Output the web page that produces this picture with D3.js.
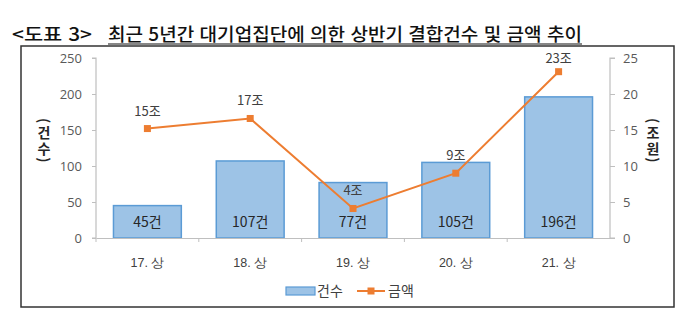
<!DOCTYPE html>
<html lang="ko">
<head>
<meta charset="utf-8">
<script src="https://cdn.jsdelivr.net/npm/d3@7"></script>
<style>
  html, body { margin: 0; padding: 0; background: #fff; }
  svg { display: block; font-family: "Noto Sans CJK KR", "Noto Sans", sans-serif; }
</style>
</head>
<body>
<svg id="chart" width="697" height="327"></svg>
<script>
// Half-year M&A counts and amounts of large business groups
const categories = ["17. 상", "18. 상", "19. 상", "20. 상", "21. 상"];
const counts = [45, 107, 77, 105, 196];          // 건수
const amounts = [15.2, 16.6, 4.1, 9.0, 23.1];     // 금액 (조원)
const countTicks = [0, 50, 100, 150, 200, 250];
const amountTicks = [0, 5, 10, 15, 20, 25];
const seriesNames = ["건수", "금액"];
const axisTitles = ["(건수)", "(조원)"];

const svg = d3.select("#chart");

const BAR_FILL = "#9dc3e6", BAR_STROKE = "#5b9bd5", LINE = "#ed7d31";
const AXIS = "#bfbfbf", TXT = "#404040";

// title
svg.append("text").attr("x", 12).attr("y", 41).attr("font-size", 18).attr("fill", "#111")
  .attr("font-weight", 500)
  .attr("textLength", 80).attr("lengthAdjust", "spacingAndGlyphs").text("<도표 3>");
svg.append("text").attr("x", 108).attr("y", 41).attr("font-size", 18).attr("fill", "#111")
  .attr("font-weight", 500)
  .attr("textLength", 474).attr("lengthAdjust", "spacingAndGlyphs")
  .text("최근 5년간 대기업집단에 의한 상반기 결합건수 및 금액 추이");
svg.append("line").attr("x1", 108).attr("x2", 582).attr("y1", 44).attr("y2", 44)
  .attr("stroke", "#111").attr("stroke-width", 1.2);

// outer frame
svg.append("rect").attr("x", 21).attr("y", 46).attr("width", 653).attr("height", 261)
  .attr("fill", "none").attr("stroke", "#333").attr("stroke-width", 1.5);

const plot = { left: 96, right: 610, top: 58, bottom: 238 };

const x = d3.scaleBand().domain(categories).range([plot.left, plot.right]).paddingInner(0.34).paddingOuter(0.17);
const xBand = d3.scaleBand().domain(categories).range([plot.left, plot.right]);
const yL = d3.scaleLinear().domain([0, 250]).range([plot.bottom, plot.top]);
const yR = d3.scaleLinear().domain([0, 25]).range([plot.bottom, plot.top]);

// left axis
const gL = svg.append("g").attr("transform", `translate(${plot.left},0)`)
  .call(d3.axisLeft(yL).tickValues(countTicks).tickSize(4).tickPadding(10));
// right axis
const gR = svg.append("g").attr("transform", `translate(${plot.right},0)`)
  .call(d3.axisRight(yR).tickValues(amountTicks).tickSize(5).tickPadding(8));
[gL, gR].forEach(g => {
  g.select(".domain").attr("stroke", AXIS).attr("stroke-width", 1.2);
  g.selectAll(".tick line").attr("stroke", AXIS);
  g.selectAll(".tick text").attr("fill", "#595959").attr("font-size", 13)
    .attr("font-family", "'Open Sans', 'Noto Sans', sans-serif");
});
gL.select(".domain").attr("d", `M-4,${plot.top}H0V${plot.bottom}H-4`);
gR.select(".domain").attr("d", `M5,${plot.top}H0V${plot.bottom}H5`);

// bars
svg.append("g").selectAll("rect").data(counts).join("rect")
  .attr("x", (d, i) => x(categories[i]))
  .attr("width", x.bandwidth())
  .attr("y", d => yL(d))
  .attr("height", d => yL(0) - yL(d))
  .attr("fill", BAR_FILL).attr("stroke", BAR_STROKE).attr("stroke-width", 1.5);

// x axis
const gX = svg.append("g").attr("transform", `translate(0,${plot.bottom})`)
  .call(d3.axisBottom(xBand).tickSize(0).tickPadding(20));
gX.select(".domain").attr("stroke", AXIS).attr("stroke-width", 1.2);
gX.selectAll(".tick text").attr("fill", TXT).attr("font-size", 12.5).attr("font-weight", 500);
const bounds = categories.slice(1).map(c => xBand(c)).concat([plot.left]);
gX.selectAll("line.sep").data(bounds).join("line").attr("class", "sep")
  .attr("x1", d => d).attr("x2", d => d).attr("y1", 0).attr("y2", 4)
  .attr("stroke", AXIS);

// bar labels (inside base)
svg.append("g").selectAll("text").data(counts).join("text")
  .attr("x", (d, i) => xBand(categories[i]) + xBand.bandwidth() / 2)
  .attr("y", yL(0) - 11)
  .attr("text-anchor", "middle").attr("font-size", 14).attr("fill", "#262626")
  .text(d => d + "건");

// amount line
const pts = amounts.map((v, i) => [xBand(categories[i]) + xBand.bandwidth() / 2, yR(v)]);
svg.append("path").datum(pts).attr("d", d3.line())
  .attr("fill", "none").attr("stroke", LINE).attr("stroke-width", 2);
svg.append("g").selectAll("rect").data(pts).join("rect")
  .attr("x", d => d[0] - 3.5).attr("y", d => d[1] - 3.5)
  .attr("width", 7).attr("height", 7).attr("fill", LINE);
const fmt = d3.format(".0f");
svg.append("g").selectAll("text").data(amounts).join("text")
  .attr("x", (d, i) => pts[i][0])
  .attr("y", (d, i) => Math.max(pts[i][1] - 18, 58) + 5)
  .attr("text-anchor", "middle").attr("font-size", 13).attr("fill", TXT)
  .text(d => fmt(d) + "조");

// vertical axis titles (stacked characters, vertical writing mode)
[[44, axisTitles[0]], [653, axisTitles[1]]].forEach(([cx, label]) => {
  svg.append("text")
    .attr("x", cx).attr("y", 118)
    .style("writing-mode", "vertical-rl")
    .style("text-orientation", "mixed")
    .attr("font-size", 14).attr("font-weight", 700).attr("fill", "#262626")
    .attr("letter-spacing", 2)
    .text(label);
});

// legend
const lg = svg.append("g").attr("font-size", 14).attr("fill", TXT);
lg.append("rect").attr("x", 286).attr("y", 287).attr("width", 29).attr("height", 8)
  .attr("fill", BAR_FILL).attr("stroke", BAR_STROKE).attr("stroke-width", 1.2);
lg.append("text").attr("x", 317).attr("y", 296).text(seriesNames[0]);
lg.append("line").attr("x1", 357).attr("x2", 385).attr("y1", 291).attr("y2", 291)
  .attr("stroke", LINE).attr("stroke-width", 2);
lg.append("rect").attr("x", 367.5).attr("y", 287.5).attr("width", 7).attr("height", 7).attr("fill", LINE);
lg.append("text").attr("x", 388).attr("y", 296).text(seriesNames[1]);
</script>
</body>
</html>
